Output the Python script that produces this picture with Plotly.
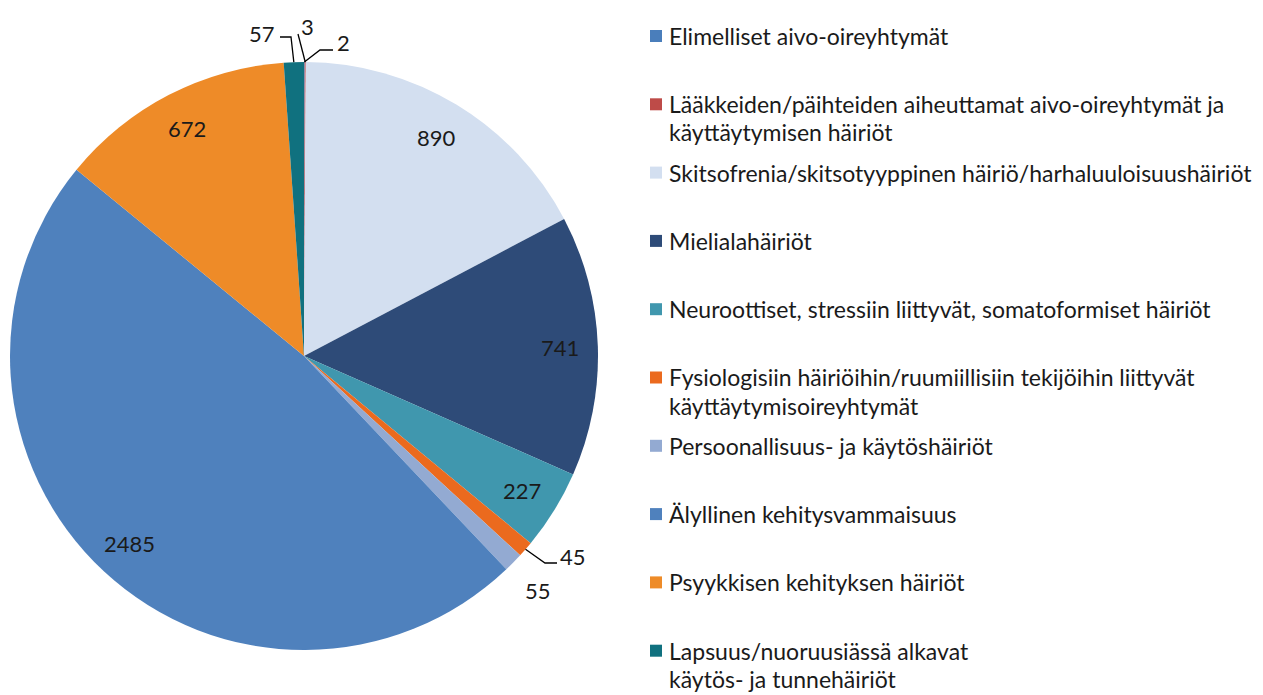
import math
import plotly.graph_objects as go

# ---- data ----
categories = [
    "Elimelliset aivo-oireyhtymät",
    "Lääkkeiden/päihteiden aiheuttamat aivo-oireyhtymät ja\nkäyttäytymisen häiriöt",
    "Skitsofrenia/skitsotyyppinen häiriö/harhaluuloisuushäiriöt",
    "Mielialahäiriöt",
    "Neuroottiset, stressiin liittyvät, somatoformiset häiriöt",
    "Fysiologisiin häiriöihin/ruumiillisiin tekijöihin liittyvät\nkäyttäytymisoireyhtymät",
    "Persoonallisuus- ja käytöshäiriöt",
    "Älyllinen kehitysvammaisuus",
    "Psyykkisen kehityksen häiriöt",
    "Lapsuus/nuoruusiässä alkavat\nkäytös- ja tunnehäiriöt",
]
values = [2, 3, 890, 741, 227, 45, 55, 2485, 672, 57]
colors = ["#4A7EBB", "#BE4B48", "#D3DFF0", "#2E4B78", "#4097AE",
          "#EB6A1E", "#93AAD2", "#4F81BD", "#EE8B28", "#10717F"]

W, H = 1263, 695
OFF = 8  # page body margin
CX, CY, R = 304, 356, 294
FONT = "Lato"
TXT = "#1a1a1a"


def px(x):
    return (x - OFF) / W


def py(y):
    return 1 - (y - OFF) / H


fig = go.Figure(go.Pie(
    labels=[c.replace("\n", " ") for c in categories],
    values=values,
    marker=dict(colors=colors, line=dict(width=0)),
    sort=False,
    direction="clockwise",
    rotation=0,
    textinfo="none",
    hoverinfo="label+value",
    showlegend=False,
    domain=dict(x=[px(CX - R), px(CX + R)], y=[py(CY + R), py(CY - R)]),
))

annotations = []
shapes = []

# data labels
total = sum(values)
cum = 0
# outside label placement for small slices: (label x, label y, leader path)
outside = {
    0: ((343, 42), [(1.0, None), (320, 50), (333, 50)]),
    1: ((307, 26), [(1.0, None), (298, 34)]),
    5: ((573, 556), [(1.0, None), (545, 563), (557, 563)]),
    6: ((538, 590), None),
    9: ((262, 33), [(1.0, None), (291, 37), (280, 37)]),
}
for i, v in enumerate(values):
    mid = (cum + v / 2) / total * 2 * math.pi
    cum += v
    if i in outside:
        (lx, ly), path = outside[i]
        if path:
            sx = CX + R * math.sin(mid)
            sy = CY - R * math.cos(mid)
            pts = [(sx, sy)] + path[1:]
            d = "M " + " L ".join(f"{px(a)},{py(b)}" for a, b in pts)
            shapes.append(dict(type="path", path=d, xref="paper", yref="paper",
                               line=dict(color="black", width=1.3)))
    else:
        lx = CX + 0.87 * R * math.sin(mid)
        ly = CY - 0.87 * R * math.cos(mid)
    annotations.append(dict(x=px(lx), y=py(ly), xref="paper", yref="paper",
                            text=str(v), showarrow=False,
                            xanchor="center", yanchor="middle",
                            font=dict(family=FONT, size=22, color=TXT)))

# legend (manual)
slot0, step, line_h = 36, 68.3, 28
for i, (cat, col) in enumerate(zip(categories, colors)):
    y0 = slot0 + step * i
    shapes.append(dict(type="rect", xref="paper", yref="paper",
                       x0=px(650), x1=px(662), y0=py(y0 - 6), y1=py(y0 + 6),
                       fillcolor=col, line=dict(width=0)))
    for j, line in enumerate(cat.split("\n")):
        annotations.append(dict(x=px(667), y=py(y0 + j * line_h),
                                xref="paper", yref="paper", text=line,
                                showarrow=False, xanchor="left", yanchor="middle",
                                font=dict(family=FONT, size=23, color=TXT)))

fig.update_layout(
    width=W, height=H,
    margin=dict(l=0, r=0, t=0, b=0),
    paper_bgcolor="white", plot_bgcolor="white",
    annotations=annotations, shapes=shapes,
)

fig.write_html("out.html")
